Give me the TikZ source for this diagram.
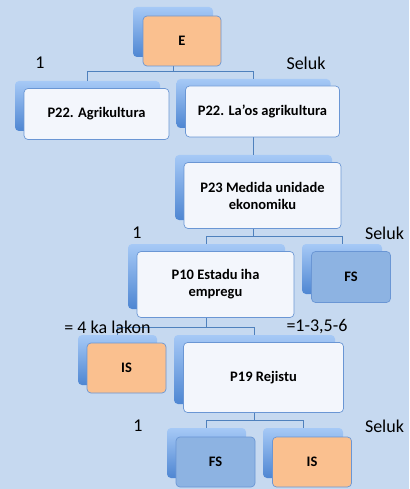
\documentclass[tikz,border=0pt]{standalone}
\usepackage{fontspec}
\setmainfont{Carlito}
\definecolor{bg}{HTML}{C6D9F0}
\definecolor{bktop}{HTML}{A6C9F6}
\definecolor{bkbot}{HTML}{4E86D2}
\definecolor{frontfill}{HTML}{F3F6FC}
\definecolor{frontdraw}{HTML}{6A96D4}
\definecolor{peach}{HTML}{FAC08F}
\definecolor{fsblue}{HTML}{8DB3E2}
\definecolor{linec}{HTML}{4F81BD}
\begin{document}
\begin{tikzpicture}[x=1pt,y=-1pt,
  backbox/.style={rectangle, rounded corners=4pt, top color=bktop, bottom color=bkbot, draw=none, inner sep=0pt},
  frontbox/.style={rectangle, rounded corners=4pt, fill=frontfill, draw=frontdraw, line width=0.7pt, inner sep=0pt, align=center, font=\bfseries\fontsize{14.5}{17}\selectfont},
  conn/.style={draw=linec, line width=0.8pt},
  lbl/.style={font=\fontsize{18}{20}\selectfont, inner sep=0pt}]
\fill[bg] (0,0) rectangle (409,489);
\useasboundingbox (0,0) rectangle (409,489);
% back boxes (named, connectors attach to them)
\node[backbox, minimum width=80pt, minimum height=50pt] (E) at (173,32) {};
\node[backbox, minimum width=145pt, minimum height=50pt] (Agri) at (87.5,106) {};
\node[backbox, minimum width=154pt, minimum height=49pt] (Laos) at (253.5,103.5) {};
\node[backbox, minimum width=157pt, minimum height=65pt] (P23) at (253.5,187.5) {};
\node[backbox, minimum width=157pt, minimum height=65pt] (P10) at (206.5,276.5) {};
\node[backbox, minimum width=80pt, minimum height=50pt] (FSa) at (342,269) {};
\node[backbox, minimum width=79pt, minimum height=50pt] (ISa) at (117.5,360) {};
\node[backbox, minimum width=161pt, minimum height=69pt] (P19) at (254.5,369.5) {};
\node[backbox, minimum width=79pt, minimum height=50pt] (FSb) at (206.5,453) {};
\node[backbox, minimum width=80pt, minimum height=50pt] (ISb) at (303,453) {};
% connectors
\draw[conn] (E.south) -- ++(0,14) -| (Agri.north);
\draw[conn] (E.south) -- ++(0,14) -| (Laos.north);
\draw[conn] (Laos.south) -- (P23.north);
\draw[conn] (P23.south) -- ++(0,16) -| (P10.north);
\draw[conn] (P23.south) -- ++(0,16) -| (FSa.north);
\draw[conn] (P10.south) -- ++(0,18) -| (ISa.north);
\draw[conn] (P10.south) -- ++(0,18) -| (P19.north);
\draw[conn] (P19.south) -- ++(0,16) -| (FSb.north);
\draw[conn] (P19.south) -- ++(0,16) -| (ISb.north);
% front boxes
\node[frontbox, fill=peach, minimum width=78pt, minimum height=50pt] (Ef) at ([shift={(9pt,-9pt)}]E.center) {E};
\node[frontbox, minimum width=145pt, minimum height=51pt] (Agrif) at ([shift={(9pt,-8pt)}]Agri.center) {P22. Agrikultura};
\node[frontbox, minimum width=154pt, minimum height=51pt] (Laosf) at ([shift={(9pt,-8pt)}]Laos.center) {P22. La’os agrikultura};
\node[frontbox, minimum width=157pt, minimum height=66pt] (P23f) at ([shift={(9pt,-8pt)}]P23.center) {P23 Medida unidade\\ekonomiku};
\node[frontbox, minimum width=157pt, minimum height=66pt] (P10f) at ([shift={(9pt,-8pt)}]P10.center) {P10 Estadu iha\\empregu};
\node[frontbox, fill=fsblue, minimum width=79pt, minimum height=51pt] (FSaf) at ([shift={(9pt,-8pt)}]FSa.center) {FS};
\node[frontbox, fill=peach, minimum width=79pt, minimum height=50pt] (ISaf) at ([shift={(9pt,-8pt)}]ISa.center) {IS};
\node[frontbox, minimum width=160pt, minimum height=70pt] (P19f) at ([shift={(9pt,-8pt)}]P19.center) {P19 Rejistu};
\node[frontbox, fill=fsblue, minimum width=79pt, minimum height=50pt] (FSbf) at ([shift={(9pt,-9pt)}]FSb.center) {FS};
\node[frontbox, fill=peach, minimum width=79pt, minimum height=50pt] (ISbf) at ([shift={(9pt,-9pt)}]ISb.center) {IS};
% labels
\node[lbl] (l1) at (40,63) {1};
\node[lbl] (l2) at (306,63) {Seluk};
\node[lbl] (l3) at (137,233) {1};
\node[lbl] (l4) at (384.5,233) {Seluk};
\node[lbl] (l5) at (107.5,327) {= 4 ka lakon};
\node[lbl] (l6) at (317,327) {=1-3,5-6};
\node[lbl] (l7) at (138,426) {1};
\node[lbl] (l8) at (384.5,426) {Seluk};
\end{tikzpicture}
\end{document}
